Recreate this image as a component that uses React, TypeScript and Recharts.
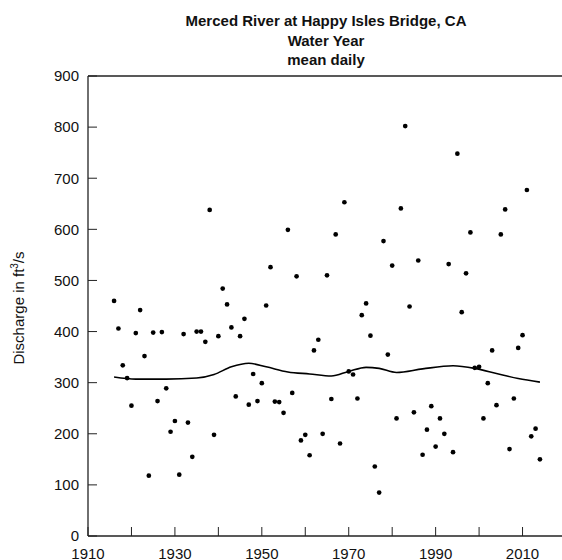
import React from 'react';
import { ComposedChart, Scatter, Line, XAxis, YAxis } from 'recharts';

// water years and annual mean daily discharge (ft3/s)
const years = [
  1916, 1917, 1918, 1919, 1920, 1921, 1922, 1923, 1924, 1925,
  1926, 1927, 1928, 1929, 1930, 1931, 1932, 1933, 1934, 1935,
  1936, 1937, 1938, 1939, 1940, 1941, 1942, 1943, 1944, 1945,
  1946, 1947, 1948, 1949, 1950, 1951, 1952, 1953, 1954, 1955,
  1956, 1957, 1958, 1959, 1960, 1961, 1962, 1963, 1964, 1965,
  1966, 1967, 1968, 1969, 1970, 1971, 1972, 1973, 1974, 1975,
  1976, 1977, 1978, 1979, 1980, 1981, 1982, 1983, 1984, 1985,
  1986, 1987, 1988, 1989, 1990, 1991, 1992, 1993, 1994, 1995,
  1996, 1997, 1998, 1999, 2000, 2001, 2002, 2003, 2004, 2005,
  2006, 2007, 2008, 2009, 2010, 2011, 2012, 2013, 2014,
];
const discharge = [
  460, 406, 334, 309, 255, 397, 442, 352, 118, 398,
  264, 399, 289, 204, 225, 120, 395, 222, 155, 400,
  400, 380, 638, 198, 391, 484, 453, 408, 273, 391,
  425, 257, 317, 264, 299, 451, 526, 263, 262, 241,
  599, 280, 508, 187, 198, 158, 363, 384, 200, 510,
  268, 590, 181, 653, 322, 316, 269, 432, 455, 392,
  136, 85, 577, 355, 529, 230, 641, 802, 449, 242,
  539, 159, 208, 254, 175, 230, 200, 532, 164, 748,
  438, 514, 594, 329, 331, 230, 299, 363, 256, 590,
  639, 170, 269, 368, 393, 677, 195, 210, 150,
];

// smoothed trend
const trendYears = [1916, 1921, 1928, 1935, 1939, 1943, 1947, 1951, 1956, 1961, 1966, 1970, 1974, 1977, 1981, 1987, 1994, 1999, 2004, 2009, 2014];
const trendValues = [311, 307, 307, 309, 316, 331, 338, 331, 321, 317, 313, 322, 330, 328, 320, 327, 333, 328, 318, 308, 301];

const yearTicks = [1910, 1920, 1930, 1940, 1950, 1960, 1970, 1980, 1990, 2000, 2010, 2020];
const flowTicks = [0, 100, 200, 300, 400, 500, 600, 700, 800, 900];

const points = years.map((year, i) => ({ year, value: discharge[i] }));
const trend = trendYears.map((year, i) => ({ year, value: trendValues[i] }));

const FONT = '"Liberation Sans", Arial, Helvetica, sans-serif';
const AXIS = '#222';

function Dot(props: any) {
  const { cx, cy } = props;
  if (cx == null || cy == null) return <g />;
  return <circle cx={cx} cy={cy} r={2.35} fill="#000" />;
}

function YearTick(props: any) {
  const { x, y, payload } = props;
  if ((payload.value - 1910) % 20 !== 0) return <g />;
  return (
    <text x={x} y={y} dy="0.71em" textAnchor="middle" fontSize={15} fontFamily={FONT} fill="#111">
      {payload.value}
    </text>
  );
}

export default function App() {
  return (
    <div style={{ position: 'absolute', left: 0, top: 0, width: 562, height: 560, overflow: 'hidden', background: '#fff' }}>
      <ComposedChart width={575} height={560} margin={{ top: 75, right: 8, bottom: 0, left: 0 }}>
        <XAxis
          xAxisId="b"
          dataKey="year"
          type="number"
          domain={[1910, 2020]}
          ticks={yearTicks}
          interval={0}
          height={24}
          tickSize={-9}
          tickMargin={21}
          tick={<YearTick />}
          axisLine={{ stroke: AXIS, strokeWidth: 1.3 }}
          tickLine={{ stroke: AXIS }}
          allowDataOverflow
        />
        <XAxis
          xAxisId="t"
          orientation="top"
          dataKey="year"
          type="number"
          domain={[1910, 2020]}
          ticks={yearTicks}
          interval={0}
          height={1}
          tickSize={-9}
          tick={false}
          axisLine={{ stroke: AXIS, strokeWidth: 1.3 }}
          tickLine={{ stroke: AXIS }}
          allowDataOverflow
        />
        <YAxis
          yAxisId="l"
          type="number"
          domain={[0, 900]}
          ticks={flowTicks}
          interval={0}
          width={88}
          tickSize={-9}
          tickMargin={18}
          tick={{ fontSize: 15, fill: '#111', fontFamily: FONT }}
          axisLine={{ stroke: AXIS, strokeWidth: 1.3 }}
          tickLine={{ stroke: AXIS }}
          allowDataOverflow
        />
        <YAxis
          yAxisId="r"
          orientation="right"
          type="number"
          domain={[0, 900]}
          ticks={flowTicks}
          interval={0}
          width={1}
          tickSize={-9}
          tick={false}
          axisLine={{ stroke: AXIS, strokeWidth: 1.3 }}
          tickLine={{ stroke: AXIS }}
          allowDataOverflow
        />
        <Line
          xAxisId="b"
          yAxisId="l"
          data={trend}
          dataKey="value"
          type="monotone"
          stroke="#000"
          strokeWidth={1.6}
          dot={false}
          isAnimationActive={false}
        />
        <Scatter
          xAxisId="b"
          yAxisId="l"
          data={points}
          dataKey="value"
          shape={Dot}
          isAnimationActive={false}
        />
      </ComposedChart>
      <svg width={562} height={560} style={{ position: 'absolute', left: 0, top: 0, pointerEvents: 'none' }}>
        <text textAnchor="middle" fontWeight="bold" fontSize={15} fontFamily={FONT} fill="#111">
          <tspan x={326} y={26}>Merced River at Happy Isles Bridge, CA</tspan>
          <tspan x={326} y={45.5}>Water Year</tspan>
          <tspan x={326} y={65}>mean daily</tspan>
        </text>
        <text transform="translate(24,308) rotate(-90)" textAnchor="middle" fontSize={15} fontFamily={FONT} fill="#111">
          Discharge in ft<tspan dy={-6} fontSize={10}>3</tspan><tspan dy={6}>/s</tspan>
        </text>
      </svg>
    </div>
  );
}
